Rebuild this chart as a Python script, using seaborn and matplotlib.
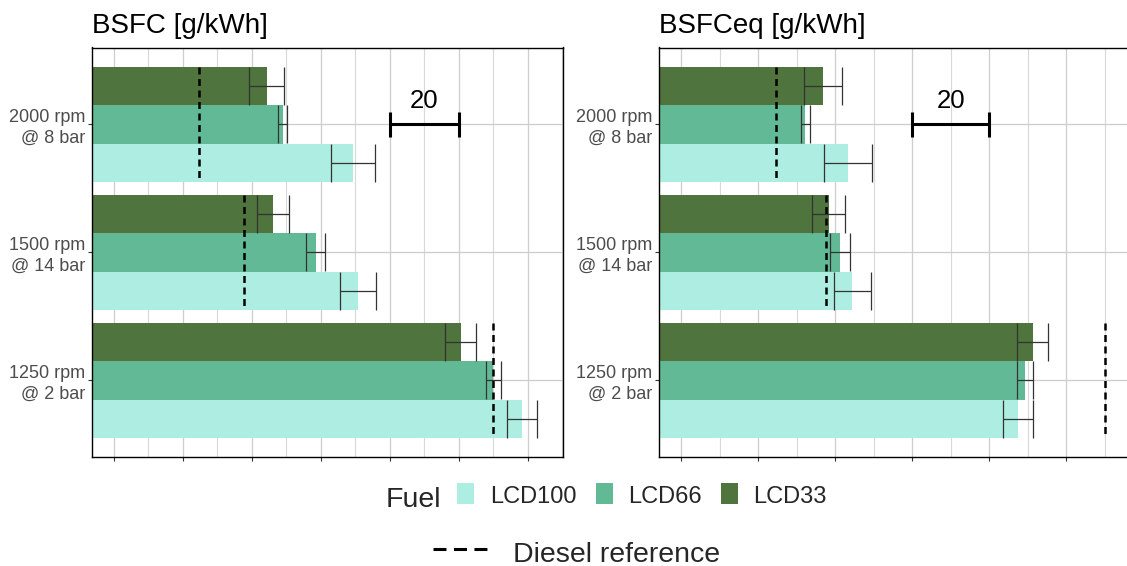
import numpy as np
import pandas as pd
import matplotlib
matplotlib.use("Agg")
import matplotlib.pyplot as plt
from matplotlib.patches import Rectangle
from matplotlib.lines import Line2D
import seaborn as sns

# ---- data -------------------------------------------------------------
loads = ["2000 rpm\n@ 8 bar", "1500 rpm\n@ 14 bar", "1250 rpm\n@ 2 bar"]
fuels = ["LCD100", "LCD66", "LCD33"]

# one row per load point, columns follow `fuels`
bsfc = [[269.3, 248.9, 244.3],
        [270.8, 258.5, 246.1],
        [318.4, 310.0, 300.6]]
bsfc_err = [[6.3, 1.2, 5.1],
            [5.2, 2.8, 4.6],
            [4.4, 2.2, 4.5]]
bsfc_eq = [[243.3, 232.3, 236.8],
           [244.5, 241.3, 238.4],
           [287.5, 289.3, 291.3]]
bsfc_eq_err = [[6.2, 1.1, 4.9],
               [4.9, 2.5, 4.3],
               [4.0, 2.0, 4.0]]
diesel_ref = [224.6, 237.6, 310.1]
scale_len = 20

fuel_colors = {"LCD100": "#AEEDE1", "LCD66": "#62B995", "LCD33": "#4F743D"}
hue_order = ["LCD33", "LCD66", "LCD100"]  # top to bottom inside a group

# ---- style ------------------------------------------------------------
sns.set_style("white")
plt.rcParams["font.family"] = ["Liberation Sans", "DejaVu Sans"]

W, H = 1127, 566
fig = plt.figure(figsize=(W / 100, H / 100), dpi=100)


def fx(x):
    return x / W


def fy(y):
    return 1 - y / H


def px_box(x0, y0, x1, y1):
    return [fx(x0), fy(y1), (x1 - x0) / W, (y1 - y0) / H]


def long_frame(vals, errs):
    rows = []
    for i, load in enumerate(loads):
        for j, fuel in enumerate(fuels):
            rows.append({"load": load, "fuel": fuel,
                         "value": vals[i][j], "err": errs[i][j]})
    return pd.DataFrame(rows)


def draw_panel(ax, df, title, xlim, scale_start, title_x):
    sns.barplot(data=df, y="load", x="value", hue="fuel", order=loads,
                hue_order=hue_order, palette=fuel_colors, width=0.9, gap=0,
                errorbar=None, legend=False, saturation=1, linewidth=0,
                orient="h", ax=ax)

    bars = [p for p in ax.patches if isinstance(p, Rectangle)]
    # error bars, matched to each bar by its category row and its length
    for bar in bars:
        yc = bar.get_y() + bar.get_height() / 2
        load = loads[int(round(yc))]
        sub = df[df["load"] == load]
        row = sub.iloc[np.argmin(np.abs(sub["value"].values - bar.get_width()))]
        ax.errorbar(row["value"], yc, xerr=row["err"], fmt="none",
                    ecolor="#333333", elinewidth=0.9, capsize=14,
                    capthick=0.9, zorder=4)

    # diesel reference across each group of bars
    for i, ref in enumerate(diesel_ref):
        grp = [b for b in bars if int(round(b.get_y() + b.get_height() / 2)) == i]
        y0 = min(b.get_y() for b in grp)
        y1 = max(b.get_y() + b.get_height() for b in grp)
        ax.vlines(ref, y0, y1, colors="black", linewidth=1.8,
                  linestyles=(0, (2.8, 1.8)), zorder=5)

    # scale bar
    s0, s1 = scale_start, scale_start + scale_len
    ax.plot([s0, s1], [0, 0], color="black", lw=2.2, solid_capstyle="butt",
            zorder=6)
    ax.vlines([s0, s1], -0.1, 0.1, colors="black", linewidth=2.2, zorder=6)
    ax.text((s0 + s1) / 2, -0.13, str(scale_len), ha="center", va="baseline",
            fontsize=18.5, color="black", zorder=6)

    ax.set_xticks(np.arange(200, 340, 20))
    ax.set_xticks(np.arange(210, 340, 20), minor=True)
    ax.set_xlim(*xlim)
    ax.set_yticks(range(len(loads)))
    ax.set_yticklabels(loads)
    ax.set_ylim(2.6, -0.6)
    ax.set_axisbelow(True)
    ax.grid(True, which="major", axis="both", color="#CDCDCD", lw=0.9)
    ax.grid(True, which="minor", axis="x", color="#D8D8D8", lw=0.8)
    ax.set_xlabel("")
    ax.set_ylabel("")
    ax.tick_params(axis="x", which="major", length=3, width=0.8,
                   color="#333333", labelbottom=False, bottom=True)
    ax.tick_params(axis="x", which="minor", length=0)
    ax.tick_params(axis="y", length=3, width=0.8, color="#333333", pad=2,
                   labelsize=13, labelcolor="#4D4D4D", left=True)
    for lab in ax.get_yticklabels():
        lab.set_linespacing(1.25)
    for sp in ax.spines.values():
        sp.set_visible(True)
        sp.set_color("black")
        sp.set_linewidth(1.0)

    fig.text(fx(title_x), fy(33.3), title, fontsize=20, va="baseline",
             ha="left", color="black")


ax1 = fig.add_axes(px_box(92.3, 47.5, 562.7, 457.3))
ax2 = fig.add_axes(px_box(659.3, 47.5, 1129.7, 457.3))

draw_panel(ax1, long_frame(bsfc, bsfc_err), "BSFC [g/kWh]",
           (193.7, 330.2), 280, 92.3)
draw_panel(ax2, long_frame(bsfc_eq, bsfc_eq_err), "BSFCeq [g/kWh]",
           (194.37, 316.5), 260, 659.3)

# ---- legend -----------------------------------------------------------
fig.text(fx(386), fy(506.7), "Fuel", fontsize=20.5, va="baseline", ha="left")
for fuel, kx, tx in [("LCD100", 457.3, 490.0),
                     ("LCD66", 595.7, 628.3),
                     ("LCD33", 720.7, 753.3)]:
    fig.add_artist(Rectangle((fx(kx), fy(504.3)), 17 / W, 21 / H,
                             transform=fig.transFigure,
                             facecolor=fuel_colors[fuel], edgecolor="none"))
    fig.text(fx(tx), fy(503.3), fuel, fontsize=17, va="baseline", ha="left")

fig.add_artist(Line2D([fx(433.3), fx(487.3)], [fy(549.3), fy(549.3)],
                      transform=fig.transFigure, color="black", lw=2.2,
                      dashes=(4.25, 2.45), solid_capstyle="butt",
                      dash_capstyle="butt"))
fig.text(fx(512.7), fy(561.7), "Diesel reference", fontsize=20.5,
         va="baseline", ha="left")

fig.savefig("out.png", dpi=100)
